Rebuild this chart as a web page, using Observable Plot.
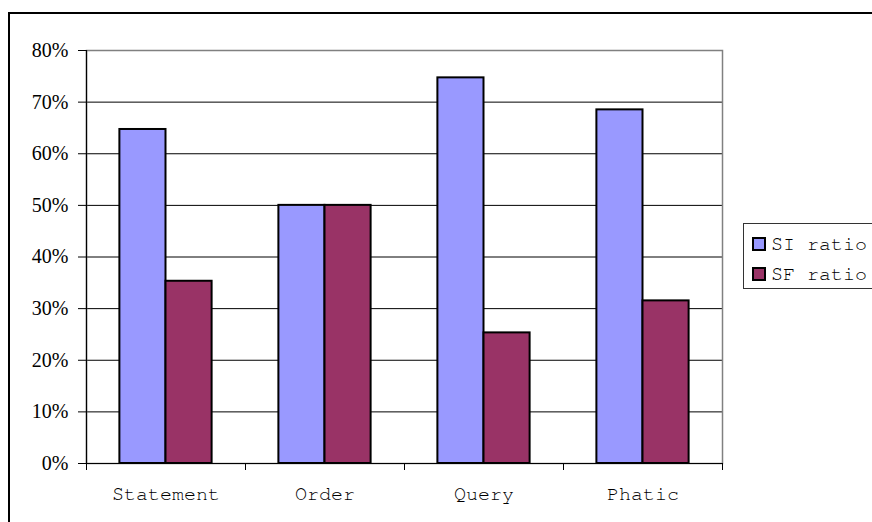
<!DOCTYPE html>
<html>
<head>
<meta charset="utf-8">
<script src="https://cdn.jsdelivr.net/npm/d3@7"></script>
<script src="https://cdn.jsdelivr.net/npm/@observablehq/plot@0.6"></script>
<style>
  html, body { margin: 0; padding: 0; background: #fff; overflow: hidden; }
  #wrap { position: relative; width: 872px; height: 522px; overflow: hidden; }
  #outer { position: absolute; left: 8px; top: 12px; width: 1000px; height: 1000px; border: 2px solid #000; box-sizing: border-box; pointer-events: none; }
  #chart { position: absolute; left: 0; top: 0; }
  #legend { position: absolute; left: 743px; top: 223px; width: 160px; height: 66px; border: 1px solid #333; box-sizing: border-box; background: #fff;
            font-family: "FreeMono", "Nimbus Mono PS", monospace; font-size: 20px; color: #000; }
  .item { position: absolute; left: 8px; height: 20px; display: flex; align-items: center; }
  .sw { width: 10px; height: 10px; border: 2px solid #000; margin-right: 5px; }
</style>
</head>
<body>
<div id="wrap">
  <div id="chart"></div>
  <div id="outer"></div>
  <div id="legend"></div>
</div>
<script>
const categories = ["Statement", "Order", "Query", "Phatic"];
const siRatio = [0.647, 0.50, 0.747, 0.685];
const sfRatio = [0.353, 0.50, 0.253, 0.315];
const seriesNames = ["SI ratio", "SF ratio"];
const seriesColors = ["#9999FF", "#993366"];
const yTicks = [0, 0.1, 0.2, 0.3, 0.4, 0.5, 0.6, 0.7, 0.8];

const rows = categories.map((c, i) => ({category: c, i, si: siRatio[i], sf: sfRatio[i]}));

// group layout within each category slot (fractions of a slot)
const outerPad = 0.21, barW = 0.29;
const monoFont = "FreeMono, 'Nimbus Mono PS', monospace";

const chart = Plot.plot({
  width: 872,
  height: 522,
  marginLeft: 86,
  marginRight: 150,
  marginTop: 50,
  marginBottom: 59,
  style: {fontFamily: monoFont, fontSize: "20px", background: "transparent", color: "#000"},
  x: {domain: [0, categories.length], axis: null},
  y: {domain: [0, 0.8], axis: null},
  marks: [
    Plot.ruleY(yTicks.slice(1, -1), {stroke: "#000", strokeWidth: 1}),
    Plot.frame({stroke: "#808080", strokeWidth: 1.5}),
    Plot.rectY(rows, {x1: d => d.i + outerPad, x2: d => d.i + outerPad + barW, y: "si", fill: seriesColors[0], stroke: "#000", strokeWidth: 2}),
    Plot.rectY(rows, {x1: d => d.i + outerPad + barW, x2: d => d.i + outerPad + 2 * barW, y: "sf", fill: seriesColors[1], stroke: "#000", strokeWidth: 2}),
    Plot.ruleX([0], {stroke: "#000", strokeWidth: 1.2}),
    Plot.ruleY([0], {stroke: "#000", strokeWidth: 1.2}),
    Plot.axisY({ticks: yTicks, tickFormat: d3.format(".0%"), tickSize: 8, tickPadding: 10, stroke: "#000",
                fontFamily: "'Liberation Serif', serif", fontSize: "20px"}),
    Plot.axisX({ticks: d3.range(categories.length + 1), tickFormat: () => "", tickSize: 7, stroke: "#000"}),
    Plot.axisX({ticks: categories.map((c, i) => i + 0.5), tickFormat: v => categories[Math.floor(v)], tickSize: 0, tickPadding: 22,
                fontFamily: monoFont, fontSize: "20px"})
  ]
});
document.getElementById("chart").appendChild(chart);

const legend = document.getElementById("legend");
seriesNames.forEach((name, k) => {
  const it = document.createElement("div");
  it.className = "item";
  it.style.top = (10 + k * 30) + "px";
  const sw = document.createElement("div");
  sw.className = "sw";
  sw.style.background = seriesColors[k];
  it.appendChild(sw);
  const t = document.createElement("span");
  t.textContent = name;
  it.appendChild(t);
  legend.appendChild(it);
});
</script>
</body>
</html>
